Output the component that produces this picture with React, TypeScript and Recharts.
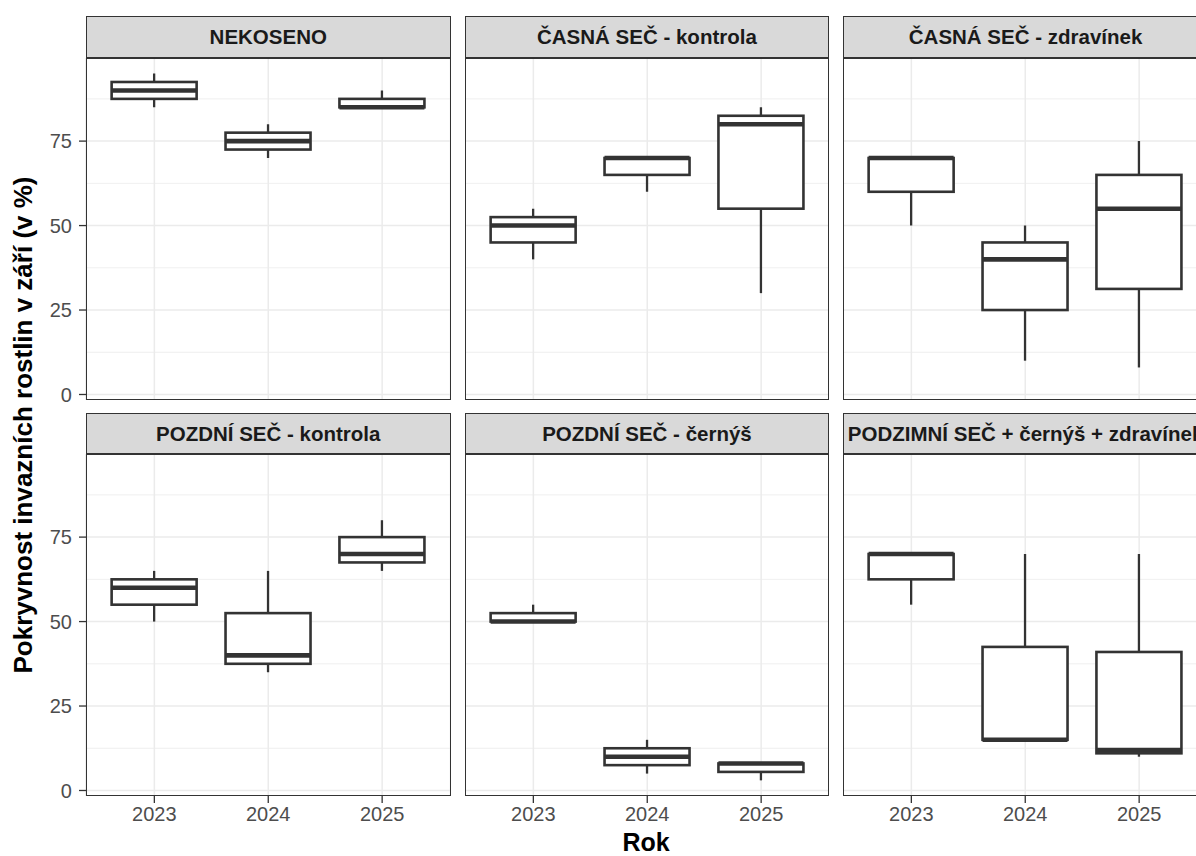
import React from 'react';
import { BarChart, Bar, XAxis, YAxis, CartesianGrid } from 'recharts';

// ---- data ----
const years = ['2023', '2024', '2025'];
const panelTitles = [
  'NEKOSENO',
  'ČASNÁ SEČ - kontrola',
  'ČASNÁ SEČ - zdravínek',
  'POZDNÍ SEČ - kontrola',
  'POZDNÍ SEČ - černýš',
  'PODZIMNÍ SEČ + černýš + zdravínek',
];
// five-number summaries per year: [min, q1, median, q3, max]
const nekoseno = [[85, 87.5, 90, 92.5, 95], [70, 72.5, 75, 77.5, 80], [85, 85, 85, 87.5, 90]];
const casnaKontrola = [[40, 45, 50, 52.5, 55], [60, 65, 70, 70, 70], [30, 55, 80, 82.5, 85]];
const casnaZdravinek = [[50, 60, 70, 70, 70], [10, 25, 40, 45, 50], [8, 31.25, 55, 65, 75]];
const pozdniKontrola = [[50, 55, 60, 62.5, 65], [35, 37.5, 40, 52.5, 65], [65, 67.5, 70, 75, 80]];
const pozdniCernys = [[50, 50, 50, 52.5, 55], [5, 7.5, 10, 12.5, 15], [3, 5.5, 8, 8, 8]];
const podzimni = [[55, 62.5, 70, 70, 70], [15, 15, 15, 42.5, 70], [10, 11, 12, 41, 70]];
const panelStats = [nekoseno, casnaKontrola, casnaZdravinek, pozdniKontrola, pozdniCernys, podzimni];
const yTicks = [0, 25, 50, 75];
const yMinor = [12.5, 37.5, 62.5, 87.5];
const yDomain = [-1.6, 99.6];

// ---- layout ----
const colLeft = [86, 464.7, 843.3];
const panelW = 364.5;
const stripTop = [15.7, 413.3];
const panelTop = [57.7, 454.3];
const panelH = 341.9;
const yAxisW = 86;
const xAxisH = 44;
const labelRoom = 14;
const dark = '#333333';
const FONT = '"Liberation Sans", Arial, Helvetica, sans-serif';

function BoxShape(props: any) {
  const { x, y, width, height, payload } = props;
  const { min, q1, med, q3, max } = payload;
  const h = Math.abs(height);
  const top = Math.min(y, y + height);
  const k = h / (max - min);
  const py = (v: number) => top + (max - v) * k;
  const cx = x + width / 2;
  return (
    <g>
      <line x1={cx} x2={cx} y1={py(max)} y2={py(q3)} stroke={dark} strokeWidth={2.3} />
      <line x1={cx} x2={cx} y1={py(q1)} y2={py(min)} stroke={dark} strokeWidth={2.3} />
      <rect x={x} y={py(q3)} width={width} height={Math.max(py(q1) - py(q3), 0)} fill="#ffffff" stroke={dark} strokeWidth={2.6} />
      <line x1={x} x2={x + width} y1={py(med)} y2={py(med)} stroke={dark} strokeWidth={4.6} />
    </g>
  );
}

function Panel({ idx }: { idx: number }) {
  const row = Math.floor(idx / 3);
  const col = idx % 3;
  const stats = panelStats[idx];
  const data = years.map((year, i) => ({
    year,
    min: stats[i][0],
    q1: stats[i][1],
    med: stats[i][2],
    q3: stats[i][3],
    max: stats[i][4],
  }));
  const showY = col === 0;
  const showX = row === 1;
  const chartLeft = showY ? colLeft[col] - yAxisW : colLeft[col];
  const chartW = showY ? panelW + yAxisW : panelW;
  const bottomMargin = showX ? 0 : labelRoom;
  const chartH = panelH + (showX ? xAxisH : 0) + bottomMargin;
  const pad = panelW * 0.03125;
  return (
    <>
      <div
        style={{
          position: 'absolute',
          left: colLeft[col],
          top: stripTop[row],
          width: panelW,
          height: panelTop[row] - stripTop[row],
          background: '#d9d9d9',
          border: `1.3px solid ${dark}`,
          boxSizing: 'border-box',
          display: 'flex',
          alignItems: 'center',
          justifyContent: 'center',
          fontFamily: FONT,
          fontWeight: 'bold',
          fontSize: 20.5,
          color: '#1a1a1a',
          whiteSpace: 'nowrap',
        }}
      >
        {panelTitles[idx]}
      </div>
      <div style={{ position: 'absolute', left: chartLeft, top: panelTop[row] }}>
        <BarChart
          width={chartW}
          height={chartH}
          data={data}
          margin={{ top: 0, right: 0, bottom: bottomMargin, left: 0 }}
          barCategoryGap="12.5%"
          style={{ overflow: 'visible' }}
        >
          <CartesianGrid
            horizontalValues={yMinor}
            vertical={false}
            stroke="#ebebeb"
            strokeWidth={0.8}
          />
          <CartesianGrid
            horizontalValues={yTicks}
            stroke="#ebebeb"
            strokeWidth={1.5}
          />
          <XAxis
            dataKey="year"
            type="category"
            hide={!showX}
            height={xAxisH}
            padding={{ left: pad, right: pad }}
            axisLine={false}
            tickLine={{ stroke: dark, strokeWidth: 1.3 }}
            tickSize={7}
            tickMargin={4}
            tick={{ fill: '#4d4d4d', fontSize: 20, fontFamily: FONT }}
          />
          <YAxis
            type="number"
            domain={yDomain}
            allowDataOverflow
            ticks={yTicks}
            interval={0}
            hide={!showY}
            width={yAxisW}
            axisLine={false}
            tickLine={{ stroke: dark, strokeWidth: 1.3 }}
            tickSize={7}
            tickMargin={7}
            tick={{ fill: '#4d4d4d', fontSize: 20, fontFamily: FONT }}
          />
          <Bar
            dataKey={(d: any) => [d.min, d.max]}
            shape={<BoxShape />}
            isAnimationActive={false}
          />
        </BarChart>
      </div>
      <div
        style={{
          position: 'absolute',
          left: colLeft[col],
          top: panelTop[row],
          width: panelW,
          height: panelH,
          border: `1.3px solid ${dark}`,
          boxSizing: 'border-box',
          pointerEvents: 'none',
        }}
      />
    </>
  );
}

export default function App() {
  return (
    <div
      style={{
        position: 'absolute',
        left: 0,
        top: 0,
        width: 1196,
        height: 856,
        overflow: 'hidden',
        background: '#ffffff',
      }}
    >
      {panelTitles.map((_, i) => (
        <Panel key={i} idx={i} />
      ))}
      <svg width={1196} height={856} style={{ position: 'absolute', left: 0, top: 0, pointerEvents: 'none' }}>
        <text
          transform="translate(32, 425) rotate(-90)"
          textAnchor="middle"
          fontFamily={FONT}
          fontWeight="bold"
          fontSize={26}
          fill="#000000"
        >
          Pokryvnost invazních rostlin v září (v %)
        </text>
        <text x={646} y={851} textAnchor="middle" fontFamily={FONT} fontWeight="bold" fontSize={25} fill="#000000">
          Rok
        </text>
      </svg>
    </div>
  );
}
